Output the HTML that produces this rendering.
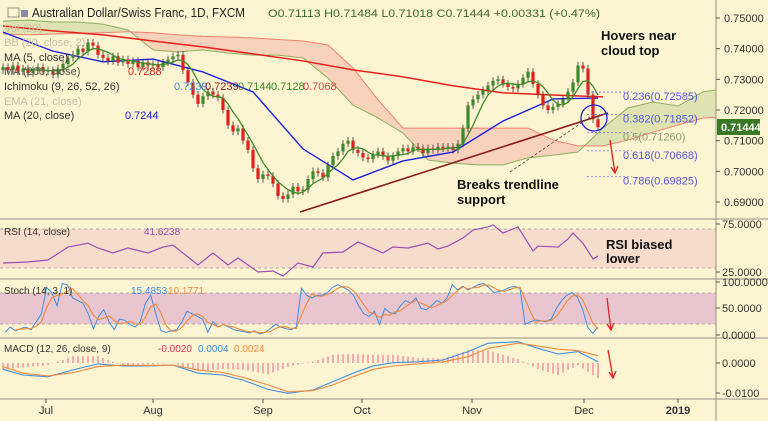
<!DOCTYPE html>
<html><head><meta charset="utf-8"><style>
html,body{margin:0;padding:0;background:#fdf4d2;}
svg{display:block;font-family:"Liberation Sans",sans-serif;}
</style></head><body>
<svg id="c" width="768" height="421" viewBox="0 0 768 421">
<defs><clipPath id="mainClip"><rect x="0" y="0" width="716" height="218"/></clipPath>
<clipPath id="plotClip"><rect x="0" y="0" width="716" height="421"/></clipPath></defs>
<rect x="0" y="0" width="768" height="421" fill="#fdf4d2"/>
<g id="main" clip-path="url(#mainClip)"></g>
<g id="lower" clip-path="url(#plotClip)"></g>
<g id="ann"></g>
<g id="axes"></g>
</svg>
<script>
const closes=[0.7340,0.7330,0.7345,0.7325,0.7335,0.7320,0.7330,0.7340,0.7325,0.7330,
0.7315,0.7335,0.7350,0.7370,0.7380,0.7400,0.7390,0.7420,0.7410,0.7380,
0.7370,0.7360,0.7375,0.7355,0.7365,0.7350,0.7360,0.7340,0.7355,0.7345,
0.7350,0.7340,0.7355,0.7365,0.7375,0.7380,0.7330,0.7290,0.7250,0.7220,
0.7245,0.7260,0.7250,0.7240,0.7200,0.7150,0.7130,0.7140,0.7100,0.7070,
0.7010,0.6975,0.6990,0.6985,0.6960,0.6920,0.6910,0.6925,0.6950,0.6935,
0.6940,0.6975,0.7000,0.6995,0.6980,0.7020,0.7050,0.7065,0.7090,0.7100,
0.7070,0.7060,0.7045,0.7040,0.7055,0.7065,0.7050,0.7035,0.7050,0.7065,
0.7075,0.7065,0.7080,0.7075,0.7060,0.7075,0.7070,0.7080,0.7075,0.7080,
0.7070,0.7090,0.7140,0.7215,0.7235,0.7250,0.7265,0.7280,0.7295,0.7300,
0.7285,0.7275,0.7270,0.7285,0.7305,0.7325,0.7285,0.7250,0.7215,0.7200,
0.7210,0.7220,0.7235,0.7260,0.7290,0.7345,0.7335,0.7250,0.7170,0.7144];
const firstOpen=0.7330;
// Ichimoku cloud sampled every 5 bars
const spanA=[0.7490,0.7493,0.7487,0.7487,0.7480,0.7461,0.7396,0.7389,0.7396,0.7386,0.7379,0.7379,0.7370,0.7304,0.7216,0.7174,0.7125,0.7037,0.7027,0.7021,0.7021,0.7044,0.7053,0.7063,0.7141,0.7207,0.7226,0.7213,0.7259,0.7272];
const spanB=[0.7448,0.7445,0.7448,0.7450,0.7452,0.7455,0.7452,0.7445,0.7440,0.7438,0.7435,0.7430,0.7425,0.7412,0.7337,0.7233,0.7141,0.7141,0.7141,0.7141,0.7141,0.7141,0.7102,0.7083,0.7083,0.7102,0.7128,0.7151,0.7174,0.7177];
// MA200 and MA20 sampled every 10 bars
const ma200=[0.7474,0.7458,0.7445,0.7425,0.7406,0.7383,0.7360,0.7331,0.7308,0.7279,0.7256,0.7249,0.7243];
const ma20=[0.7454,0.7392,0.7357,0.7366,0.7324,0.7259,0.7073,0.6972,0.7034,0.7063,0.7164,0.7236,0.7239];
const fibLevels=["0.236","0.382","0.5","0.618","0.786"];
const fibPrices=[0.72585,0.71852,0.71260,0.70668,0.69825];
const priceTicks=[0.75,0.74,0.73,0.72,0.71,0.70,0.69];
const rsiBars=[0,5,9,13,17,19,22,25,29,32,34,39,42,45,47,51,54,56,59,62,64,68,71,76,78,81,85,87,89,92,94,97,98,100,103,106,107,111,113,114,116,118,119];
const rsiValues=[34.4,35.4,37.5,51,55,50,44.8,50,44.8,51,53,32.3,44.8,32.3,39.6,25,26,20.8,34.4,30.2,44.8,45.8,56.3,44.8,51,50,55,49,52,60.4,68.75,71.9,74,65.6,71.9,46.9,52,51,59.4,65.6,55,38.5,41.6];
const stochK=[5,15,8,12,15,10,25,40,90,80,55,97,95,70,65,60,40,12,35,48,25,10,30,28,20,15,25,60,75,40,8,5,8,10,25,45,40,35,30,5,25,15,20,15,10,8,6,4,8,2,5,12,20,15,12,10,15,88,75,70,75,75,80,90,95,90,85,75,55,40,35,45,20,50,42,40,55,65,60,70,50,48,55,65,60,70,95,85,92,85,90,95,97,90,80,82,85,90,92,88,20,25,28,27,25,30,50,65,75,80,72,50,15,3,15.4853];
const macdBars=[0,4,9,14,19,24,29,34,39,44,48,53,57,62,66,70,74,78,83,88,93,97,103,107,111,115,119];
const macdLine=[-0.0021,-0.0040,-0.0046,-0.0023,-0.0003,-0.0010,-0.0010,-0.0007,-0.0034,-0.0040,-0.0057,-0.0088,-0.0101,-0.0090,-0.0062,-0.0034,-0.0010,0.0001,0.0004,0.0010,0.0038,0.0066,0.0071,0.0049,0.0030,0.0038,0.0004];
const macdSignal=[-0.0012,-0.0034,-0.0043,-0.0032,-0.0012,-0.0007,-0.0008,-0.0007,-0.0023,-0.0032,-0.0048,-0.0073,-0.0096,-0.0092,-0.0073,-0.0046,-0.0021,-0.0010,-0.0003,0.0004,0.0021,0.0049,0.0066,0.0057,0.0046,0.0041,0.0024];
const monthLabels=["Jul","Aug","Sep","Oct","Nov","Dec","2019"];
const monthBars=[8.6,30,52,71.8,93.8,116.2,135];

const NS="http://www.w3.org/2000/svg";
function mk(parent,tag,attrs,text){const e=document.createElementNS(NS,tag);for(const k in attrs)e.setAttribute(k,attrs[k]);if(text!==undefined)e.textContent=text;parent.appendChild(e);return e;}
const bx=i=>3+5*i;
const py=p=>18+(0.75-p)*3067;
const ry=v=>272-(v-25)*0.96;
const sy=v=>335-v*0.53;
const my=v=>363-v*3000;
const sx=i=>5+i*(593/(stochK.length-1));
const main=document.getElementById('main'),lower=document.getElementById('lower'),ann=document.getElementById('ann'),axes=document.getElementById('axes');

// cloud
for(let k=0;k<spanA.length-1;k++){
  const x0=bx(5*k),x1=bx(5*k+5);
  const green=(spanA[k]+spanA[k+1])>=(spanB[k]+spanB[k+1]);
  const poly=mk(main,'polygon',{points:`${x0},${py(spanA[k])} ${x1},${py(spanA[k+1])} ${x1},${py(spanB[k+1])} ${x0},${py(spanB[k])}`,fill:green?'#dfe3b2':'#f8d2bb',stroke:'none'});
  
  
}
let pa='',pb='';
spanA.forEach((v,k)=>{pa+=(k?'L':'M')+bx(5*k)+','+py(v);});
spanB.forEach((v,k)=>{pb+=(k?'L':'M')+bx(5*k)+','+py(v);});
let e=mk(main,'path',{d:pa,fill:'none',stroke:'#88b060','stroke-width':1});

e=mk(main,'path',{d:pb,fill:'none',stroke:'#f08070','stroke-width':1});


// MA200
let d='';ma200.forEach((v,k)=>{d+=(k?'L':'M')+bx(10*k)+','+py(v);});
e=mk(main,'path',{d:d,fill:'none',stroke:'#e8201a','stroke-width':1.5});

// MA20
d='';ma20.forEach((v,k)=>{d+=(k?'L':'M')+bx(Math.min(10*k,119))+','+py(v);});
e=mk(main,'path',{d:d,fill:'none',stroke:'#1a22e0','stroke-width':1.4,'stroke-linejoin':'round'});


// candles
closes.forEach((c,i)=>{
  const o=i?closes[i-1]:firstOpen;
  const up=c>=o;const col=up?'#3c8a2a':'#e0201a';
  const hi=Math.max(o,c)+0.0012,lo=Math.min(o,c)-0.0012;
  const g=mk(main,'g',{});
  
  
  mk(g,'line',{x1:bx(i),x2:bx(i),y1:py(hi),y2:py(lo),stroke:'#333','stroke-width':0.8});
  const yt=py(Math.max(o,c)),h=Math.max(1,py(Math.min(o,c))-yt);
  mk(g,'rect',{x:bx(i)-1.6,y:yt,width:3.2,height:h,fill:col});
});
// SMA5
d='';for(let i=4;i<closes.length;i++){let s=0;for(let j=i-4;j<=i;j++)s+=closes[j];d+=(i>4?'L':'M')+bx(i)+','+py(s/5);}
e=mk(main,'path',{d:d,fill:'none',stroke:'#3e8a2a','stroke-width':1.3});


// trendline
e=mk(main,'line',{x1:300,y1:212,x2:608,y2:113,stroke:'#8b1a1a','stroke-width':1.6});

e=mk(main,'line',{x1:510,y1:172,x2:590,y2:117,stroke:'#444','stroke-width':0.8,'stroke-dasharray':'3,2'});

e=mk(main,'circle',{cx:594,cy:118,r:13,fill:'none',stroke:'#1a22e0','stroke-width':1.3});


// fib
fibPrices.forEach((p,k)=>{
  const y=py(p);
  const l=mk(main,'line',{x1:587,x2:632,y1:y,y2:y,stroke:'#7070e0','stroke-width':0.8,'stroke-dasharray':'2,2'});
  
  const t=mk(ann,'text',{x:623,y:y+8,'font-size':11,fill:k==2?'#8aa070':'#5555dd'},fibLevels[k]+'('+p.toFixed(5)+')');
  
});

// panel backgrounds
e=mk(lower,'rect',{x:0,y:229,width:716,height:39,fill:'#f5dccb'});

e=mk(lower,'rect',{x:0,y:293,width:716,height:31,fill:'#e9c6cf'});

[229,268,293,324].forEach(y=>{const l=mk(lower,'line',{x1:0,x2:716,y1:y,y2:y,stroke:'#999','stroke-width':0.8,'stroke-dasharray':'3,3'});});

// RSI
d='';rsiBars.forEach((b,k)=>{d+=(k?'L':'M')+bx(b)+','+ry(rsiValues[k]);});
e=mk(lower,'path',{d:d,fill:'none',stroke:'#9b4fb5','stroke-width':1.2});

// Stoch
d='';stochK.forEach((v,i)=>{d+=(i?'L':'M')+sx(i)+','+sy(v);});
e=mk(lower,'path',{d:d,fill:'none',stroke:'#3d8fe0','stroke-width':1});

d='';for(let i=2;i<stochK.length;i++){const v=(stochK[i]+stochK[i-1]+stochK[i-2])/3;d+=(i>2?'L':'M')+sx(i)+','+sy(v);}
e=mk(lower,'path',{d:d,fill:'none',stroke:'#f08a3c','stroke-width':1.1});

// MACD histogram (rendered per bar from the sampled lines)
function interp(arr,i){for(let k=0;k<macdBars.length-1;k++){if(i>=macdBars[k]&&i<=macdBars[k+1]){const t=(i-macdBars[k])/(macdBars[k+1]-macdBars[k]);return arr[k]+(arr[k+1]-arr[k])*t;}}return arr[arr.length-1];}
for(let i=0;i<120;i++){
  const h=(interp(macdLine,i)-interp(macdSignal,i))*2.5;
  const y0=my(0),y1=my(h);
  const r=mk(lower,'line',{x1:bx(i),x2:bx(i),y1:y0,y2:y1,stroke:'#f0608a','stroke-width':1});
  
}
d='';macdBars.forEach((b,k)=>{d+=(k?'L':'M')+bx(b)+','+my(macdLine[k]);});
e=mk(lower,'path',{d:d,fill:'none',stroke:'#3d8fe0','stroke-width':1.1});

d='';macdBars.forEach((b,k)=>{d+=(k?'L':'M')+bx(b)+','+my(macdSignal[k]);});
e=mk(lower,'path',{d:d,fill:'none',stroke:'#f08a3c','stroke-width':1.1});


// separators
[219,279,338,399].forEach(y=>{const l=mk(axes,'line',{x1:0,x2:768,y1:y,y2:y,stroke:'#b8b0a0','stroke-width':1.5});});
e=mk(axes,'line',{x1:716,x2:716,y1:0,y2:421,stroke:'#a8a090','stroke-width':1.2});

priceTicks.forEach(p=>{
  const y=py(p);
  mk(axes,'line',{x1:716,x2:720,y1:y,y2:y,stroke:'#555'});
  const t=mk(axes,'text',{x:724,y:y+4,'font-size':11,fill:'#333'},p.toFixed(5));
  
});
[["75.0000",224],["25.0000",272],["100.0000",282],["50.0000",308],["0.0000",335],["0.0000",363],["-0.0100",393]].forEach(a=>{
  mk(axes,'line',{x1:716,x2:720,y1:a[1],y2:a[1],stroke:'#555'});
  const t=mk(axes,'text',{x:722,y:a[1]+4,'font-size':11,fill:'#333'},a[0]);
  
});
e=mk(axes,'rect',{x:717,y:119,width:43,height:16,fill:'#3a7a26'});

e=mk(axes,'text',{x:721,y:131,'font-size':11,fill:'#fff','font-weight':'bold'},'0.71444');

monthLabels.forEach((m,k)=>{
  const x=bx(monthBars[k]);
  mk(axes,'line',{x1:x,x2:x,y1:399,y2:403,stroke:'#555'});
  const t=mk(axes,'text',{x:x,y:414,'font-size':11,fill:'#333','text-anchor':'middle','font-weight':m=='2019'?'bold':'normal'},m);
  
});

// header & legends
function txt(x,y,s,col,size,name,extra){const t=mk(ann,'text',Object.assign({x:x,y:y,'font-size':size,fill:col},extra||{}),s);return t;}
e=mk(ann,'rect',{x:8,y:8,width:11,height:9,fill:'none',stroke:'#777','stroke-width':0.8});

e=mk(ann,'rect',{x:21,y:10,width:7,height:7,fill:'#8c8ca0'});

txt(32,17,'Australian Dollar/Swiss Franc, 1D, FXCM','#222',13,'chart-title',{textLength:213,lengthAdjust:'spacingAndGlyphs'});
txt(268,17,'O0.71113  H0.71484  L0.71018  C0.71444  +0.00331 (+0.47%)','#3a6a2a',11,'ohlc-values',{'xml:space':'preserve',textLength:332,lengthAdjust:'spacingAndGlyphs'});
txt(4,32,'Vol (20)','#c8c0a8',11,'vol-legend');
txt(4,46,'BB (20, close, 2)','#c8c0a8',11,'bb-legend');
txt(4,61,'MA (5, close)','#333',11,'ma5-legend');
txt(4,75,'MA (200, close)','#555',11,'ma200-legend');
txt(128,75,'0.7288','#e0201a',11,'ma200-value');
txt(4,90,'Ichimoku (9, 26, 52, 26)','#333',11,'ichimoku-legend');
txt(174,90,'0.7239','#3d8fe0',11,'ichimoku-conversion');
txt(205,90,'0.7239','#8b1a1a',11,'ichimoku-base');
txt(238,90,'0.7144','#3c8a2a',11,'ichimoku-span-a');
txt(271,90,'0.7128','#3c8a2a',11,'ichimoku-span-b');
txt(303,90,'0.7068','#e04040',11,'ichimoku-lagging');
txt(4,105,'EMA (21, close)','#c8c0a8',11,'ema-legend');
txt(4,119,'MA (20, close)','#333',11,'ma20-legend');
txt(125,119,'0.7244','#1a22e0',11,'ma20-value');
txt(4,235,'RSI (14, close)','#333',10,'rsi-legend');
txt(144,235,'41.6238','#9b4fb5',10,'rsi-value');
txt(4,294,'Stoch (14, 3, 1)','#333',10,'stoch-legend');
txt(131,294,'15.4853','#3d8fe0',10,'stoch-k-value');
txt(168,294,'10.1771','#f08a3c',10,'stoch-d-value');
txt(4,352,'MACD (12, 26, close, 9)','#333',10,'macd-legend');
txt(158,352,'-0.0020','#e03060',10,'macd-hist-value');
txt(198,352,'0.0004','#3d8fe0',10,'macd-value');
txt(234,352,'0.0024','#f08a3c',10,'macd-signal-value');
// annotations
txt(601,40,'Hovers near','#111',13,'annotation-hovers',{'font-weight':'bold'});
txt(601,55,'cloud top','#111',13,'annotation-cloud-top',{'font-weight':'bold'});
txt(457,189,'Breaks trendline','#111',13,'annotation-breaks',{'font-weight':'bold'});
txt(457,204,'support','#111',13,'annotation-support',{'font-weight':'bold'});
txt(606,249,'RSI biased','#111',13,'annotation-rsi',{'font-weight':'bold'});
txt(606,263,'lower','#111',13,'annotation-rsi-lower',{'font-weight':'bold'});
function arrow(x1,y1,x2,y2,name){const g=mk(ann,'g',{stroke:'#e0201a','stroke-width':1.3,fill:'none'});mk(g,'line',{x1:x1,y1:y1,x2:x2,y2:y2});mk(g,'path',{d:`M${x2-4},${y2-6}L${x2},${y2}L${x2+3},${y2-7}`});}
arrow(610,140,615,173,'price-down-arrow');
arrow(607,298,611,330,'stoch-down-arrow');
arrow(608,350,613,378,'macd-down-arrow');
</script>
</body></html>
